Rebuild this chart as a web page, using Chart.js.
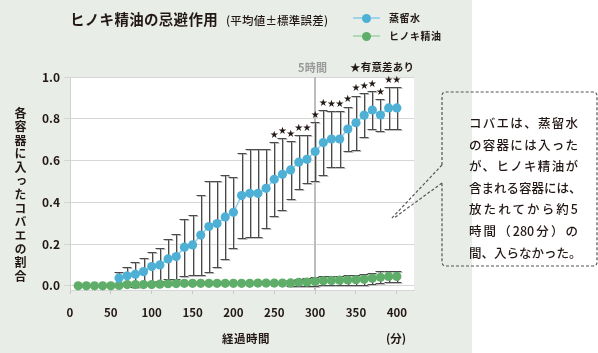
<!DOCTYPE html>
<html lang="ja">
<head>
<meta charset="utf-8">
<script src="https://cdn.jsdelivr.net/npm/chart.js@4.4.1/dist/chart.umd.min.js"></script>
<style>
  html, body { margin:0; padding:0; background:#ffffff; }
  body { width:598px; height:353px; position:relative; overflow:hidden;
         font-family:"Noto Sans CJK JP","Noto Sans",sans-serif; color:#231815; }
  #panel { position:absolute; left:0; top:0; width:472px; height:353px; background:#e8eee7; }
  #wrap { position:absolute; left:0; top:0; width:598px; height:353px; }
  .t { position:absolute; white-space:nowrap; line-height:1; }
  #title { left:70px; top:12px; font-size:14.5px; font-weight:700; letter-spacing:0.3px; }
  #sub { left:226px; top:14.5px; font-size:11.5px; font-weight:500; letter-spacing:0.2px; }
  .lgline { position:absolute; height:2px; width:27px; }
  .lgdot { position:absolute; width:9px; height:9px; border-radius:50%; }
  .lgtxt { position:absolute; font-size:10px; font-weight:700; white-space:nowrap; line-height:1; letter-spacing:0.5px; }
  #ylab { position:absolute; left:14px; top:107px; writing-mode:vertical-rl; text-orientation:upright;
          font-size:12px; font-weight:700; letter-spacing:1.6px; line-height:1; white-space:nowrap; }
  #xlab { left:222px; top:333px; font-size:11.5px; font-weight:700; letter-spacing:0.5px; }
  #xunit { left:386px; top:333px; font-size:11.5px; font-weight:700; }
  #five { left:298px; top:62px; font-size:11px; font-weight:700; color:#9a9a9a; letter-spacing:0.3px; }
  #sig { left:350px; top:62px; font-size:10.5px; font-weight:700; letter-spacing:0.2px; }
  #note { position:absolute; left:469px; top:114px; width:109px; font-size:12.5px; font-weight:500; }
  #note div { height:21.6px; line-height:17px; text-align:justify; text-align-last:justify; white-space:nowrap; }
  svg { position:absolute; left:0; top:0; }
</style>
</head>
<body>
<div id="panel"></div>
<div id="wrap"><canvas id="c" width="598" height="353"></canvas></div>

<div class="t" id="title">ヒノキ精油の忌避作用</div>
<div class="t" id="sub">(平均値±標準誤差)</div>

<div class="lgline" style="left:353px;top:17px;background:#9fd3ea;"></div>
<div class="lgdot" style="left:362px;top:13.5px;background:#4fb0d5;"></div>
<div class="lgtxt" style="left:389px;top:13px;">蒸留水</div>
<div class="lgline" style="left:353px;top:35px;background:#b2d9b5;"></div>
<div class="lgdot" style="left:362px;top:31.5px;background:#5eae6a;"></div>
<div class="lgtxt" style="left:389px;top:31px;">ヒノキ精油</div>

<div id="ylab">各容器に入ったコバエの割合</div>
<div class="t" id="xlab">経過時間</div>
<div class="t" id="xunit">(分)</div>
<div class="t" id="five">5時間</div>
<div class="t" id="sig">★有意差あり</div>

<svg width="598" height="353">
  <g fill="none" stroke="#555" stroke-width="1.2" stroke-dasharray="3 2">
    <path d="M442 165 L442 96 Q442 92 446 92 L593 92 Q597 92 597 96 L597 262 Q597 266 593 266 L446 266 Q442 266 442 262 L442 183"/>
    <path d="M442 165 L391 219"/>
    <path d="M442 183 L394 218"/>
  </g>
</svg>

<div id="note">
  <div>コバエは、蒸留水</div>
  <div>の容器には入った</div>
  <div>が、ヒノキ精油が</div>
  <div>含まれる容器には、</div>
  <div>放たれてから約5</div>
  <div>時間（280分）の</div>
  <div>間、入らなかった。</div>
</div>

<script>
// ---- data ----
const waterMinutes = [60,70,80,90,100,110,120,130,140,150,160,170,180,190,200,210,220,230,240,250,260,270,280,290,300,310,320,330,340,350,360,370,380,390,400];
const waterMean = [0.037,0.048,0.056,0.068,0.092,0.100,0.129,0.140,0.185,0.196,0.243,0.284,0.298,0.330,0.352,0.432,0.443,0.443,0.467,0.510,0.534,0.555,0.592,0.606,0.643,0.686,0.703,0.703,0.751,0.781,0.817,0.842,0.818,0.852,0.852];
const waterSE = [0.031,0.040,0.060,0.064,0.072,0.079,0.094,0.109,0.137,0.145,0.190,0.220,0.206,0.200,0.171,0.203,0.211,0.211,0.190,0.178,0.172,0.137,0.130,0.115,0.140,0.156,0.132,0.132,0.107,0.130,0.105,0.090,0.077,0.100,0.100];
const significantMinutes = [250,260,270,280,290,300,310,320,330,340,350,360,370,380,390,400];

const oilMinutes = [10,20,30,40,50,60,70,80,90,100,110,120,130,140,150,160,170,180,190,200,210,220,230,240,250,260,270,280,290,300,310,320,330,340,350,360,370,380,390,400];
const oilMean = [0,0,0,0,0,0.002,0.006,0.006,0.006,0.006,0.008,0.010,0.011,0.012,0.012,0.012,0.012,0.012,0.012,0.012,0.012,0.012,0.013,0.013,0.013,0.013,0.014,0.017,0.018,0.021,0.024,0.026,0.027,0.028,0.029,0.031,0.036,0.041,0.045,0.045];
const oilSE = [0,0,0,0,0,0,0,0,0,0,0,0,0,0,0,0,0,0,0,0,0,0,0,0,0,0,0.015,0.018,0.019,0.020,0.021,0.022,0.022,0.023,0.024,0.025,0.027,0.028,0.028,0.028];

const xTicks = [0,50,100,150,200,250,300,350,400];
const yTicks = [0,0.2,0.4,0.6,0.8,1.0];
const markerMinute = 300;

const INK = '#231815';
const toPts = (xs, ys) => xs.map((x,i)=>({x:x, y:ys[i]}));

const bgPlugin = {
  id:'bg',
  beforeDraw(chart){
    const {ctx, chartArea:a} = chart;
    ctx.save(); ctx.fillStyle='#ffffff';
    ctx.fillRect(a.left, a.top, a.right-a.left, a.bottom-a.top);
    ctx.restore();
  },
  beforeDatasetsDraw(chart){
    const {ctx, chartArea:a, scales} = chart;
    const x = Math.round(scales.x.getPixelForValue(markerMinute));
    ctx.save();
    ctx.strokeStyle='#bdbdbd'; ctx.lineWidth=2;
    ctx.beginPath(); ctx.moveTo(x, a.top); ctx.lineTo(x, a.bottom); ctx.stroke();
    // error bars
    const sets = [[oilMinutes, oilMean, oilSE],[waterMinutes, waterMean, waterSE]];
    sets.forEach(([xs,ms,ses])=>{
      xs.forEach((m,i)=>{
        if(!ses[i]) return;
        const px = Math.round(scales.x.getPixelForValue(m))+0.5;
        const yt = Math.round(scales.y.getPixelForValue(ms[i]+ses[i]))+0.5;
        const yb = Math.round(scales.y.getPixelForValue(ms[i]-ses[i]))+0.5;
        ctx.lineWidth=1;
        ctx.strokeStyle='#bdbdbd';
        ctx.beginPath();
        ctx.moveTo(px+1, yt+1); ctx.lineTo(px+1, yb+1);
        ctx.moveTo(px-4, yt+1); ctx.lineTo(px+5, yt+1);
        ctx.moveTo(px-4, yb+1); ctx.lineTo(px+5, yb+1);
        ctx.stroke();
        ctx.strokeStyle='#4a4a4a';
        ctx.beginPath();
        ctx.moveTo(px, yt); ctx.lineTo(px, yb);
        ctx.moveTo(px-5, yt); ctx.lineTo(px+4, yt);
        ctx.moveTo(px-5, yb); ctx.lineTo(px+4, yb);
        ctx.stroke();
      });
    });
    ctx.restore();
  },
  afterDatasetsDraw(chart){
    const {ctx, scales} = chart;
    ctx.save();
    ctx.fillStyle=INK; ctx.font='10px "DejaVu Sans"'; ctx.textAlign='center'; ctx.textBaseline='middle';
    significantMinutes.forEach(m=>{
      const i = waterMinutes.indexOf(m);
      const px = scales.x.getPixelForValue(m);
      const yt = scales.y.getPixelForValue(waterMean[i]+waterSE[i]);
      ctx.fillText('★', px, yt-7);
    });
    ctx.restore();
  }
};

new Chart(document.getElementById('c'), {
  type:'line',
  data:{
    datasets:[
      { label:'ヒノキ精油', data:toPts(oilMinutes, oilMean), borderColor:'#a9d5ad', borderWidth:1.5,
        pointBackgroundColor:'#5eae6a', pointBorderColor:'#5eae6a', pointRadius:4.6, pointBorderWidth:0, order:2 },
      { label:'蒸留水', data:toPts(waterMinutes, waterMean), borderColor:'#8fcde6', borderWidth:1.5,
        pointBackgroundColor:'#4fb0d5', pointBorderColor:'#4fb0d5', pointRadius:4.6, pointBorderWidth:0, order:1 }
    ]
  },
  options:{
    responsive:false, animation:false, devicePixelRatio:1,
    layout:{ padding:{ left:0, top:77, right:184, bottom:0 } },
    plugins:{ legend:{display:false}, tooltip:{enabled:false}, title:{display:false} },
    elements:{ line:{ tension:0 } },
    clip:false,
    scales:{
      x:{ type:'linear', min:0, max:421,
          afterBuildTicks(s){ s.ticks = xTicks.map(v=>({value:v})); },
          afterFit(s){ s.height = 63; },
          border:{ display:true, color:'#d6d6d6' },
          grid:{ drawOnChartArea:false, drawTicks:true, tickLength:4, color:'#c8c8c8' },
          ticks:{ color:INK, padding:12, maxRotation:0, autoSkip:false,
                  font:{ family:'"Noto Sans CJK JP", sans-serif', size:11.5, weight:'bold' } } },
      y:{ type:'linear', min:-0.02, max:1.0,
          afterBuildTicks(s){ s.ticks = yTicks.map(v=>({value:v})); },
          afterFit(s){ s.width = 70; },
          border:{ display:true, color:'#d0d0d0' },
          grid:{ color:'#d6d6d6', tickLength:6, lineWidth:1 },
          ticks:{ color:INK, padding:4, callback:v=>v.toFixed(1),
                  font:{ family:'"Noto Sans CJK JP", sans-serif', size:12, weight:'bold' } } }
    }
  },
  plugins:[bgPlugin]
});
</script>
</body>
</html>
